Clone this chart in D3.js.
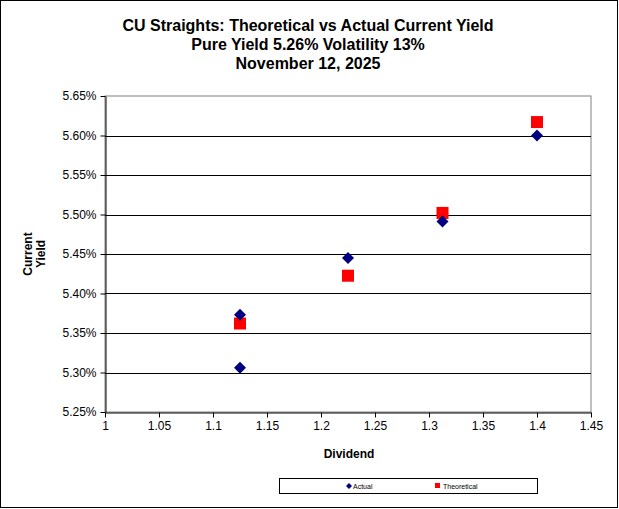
<!DOCTYPE html>
<html><head><meta charset="utf-8">
<script src="https://cdn.jsdelivr.net/npm/d3@7"></script>
<style>body{margin:0;background:#fff}svg{display:block;font-family:"Liberation Sans",Arial,sans-serif}</style>
</head><body><svg id="c" width="619" height="509"></svg>
<script>
const titleLines = ["CU Straights: Theoretical vs Actual Current Yield","Pure Yield 5.26% Volatility 13%","November 12, 2025"];
const actualX = [1.125, 1.125, 1.225, 1.3125, 1.4];
const actualY = [5.306, 5.373, 5.445, 5.491, 5.600];
const theoX = [1.125, 1.225, 1.3125, 1.4];
const theoY = [5.362, 5.4225, 5.502, 5.617];
const xTicks = [1,1.05,1.1,1.15,1.2,1.25,1.3,1.35,1.4,1.45];
const yTicks = [5.25,5.30,5.35,5.40,5.45,5.50,5.55,5.60,5.65];
const seriesNames = ["Actual","Theoretical"];

const svg = d3.select("#c");
const W=619,H=509;
svg.append("rect").attr("x",0.5).attr("y",0.5).attr("width",W-2).attr("height",H-2).attr("fill","#fff").attr("stroke","#000");
const L=105,R=591,T=96,B=412;
const x=d3.scaleLinear().domain([1,1.45]).range([L,R]);
const y=d3.scaleLinear().domain([5.25,5.65]).range([B,T]);

// title
svg.append("g").selectAll("text").data(titleLines).join("text")
 .attr("x",308).attr("y",(d,i)=>31+i*19).attr("text-anchor","middle")
 .attr("font-size",16).attr("font-weight","bold").text(d=>d);

// plot border
svg.append("rect").attr("x",L).attr("y",T).attr("width",R-L).attr("height",B-T).attr("fill","none").attr("stroke","#808080");
// gridlines
svg.append("g").selectAll("line").data(yTicks.filter(v=>v>5.25&&v<5.65)).join("line")
 .attr("x1",L).attr("x2",R).attr("y1",d=>Math.round(y(d))+0.5).attr("y2",d=>Math.round(y(d))+0.5).attr("stroke","#000");

const yAxis=svg.append("g").attr("transform",`translate(${L+0.5},0)`)
 .call(d3.axisLeft(y).tickValues(yTicks).tickSize(5).tickSizeOuter(0).tickFormat(d=>d.toFixed(2)+"%"));
const xAxis=svg.append("g").attr("transform",`translate(0,${B+0.5})`)
 .call(d3.axisBottom(x).tickValues(xTicks).tickSize(5).tickSizeOuter(0).tickFormat(d=>String(d)));
[yAxis,xAxis].forEach(a=>{a.selectAll("path,line").attr("stroke","#000");a.selectAll("text").attr("font-size",12).attr("fill","#000").attr("font-family","'Liberation Sans',Arial,sans-serif");});
yAxis.selectAll("text").attr("x",-9);
xAxis.selectAll("text").attr("y",9);

// axis titles
svg.append("text").attr("x",349).attr("y",458).attr("text-anchor","middle").attr("font-size",12).attr("font-weight","bold").text("Dividend");
const yl=svg.append("text").attr("transform","translate(34,254) rotate(-90)").attr("text-anchor","middle").attr("font-size",12).attr("font-weight","bold");
yl.append("tspan").attr("x",0).attr("dy",-2).text("Current");
yl.append("tspan").attr("x",0).attr("dy",13).text("Yield");

// points
const diamond=(s)=>`M0,${-s}L${s},0L0,${s}L${-s},0Z`;
svg.append("g").selectAll("rect").data(theoX.map((v,i)=>[v,theoY[i]])).join("rect")
 .attr("x",d=>x(d[0])-6).attr("y",d=>y(d[1])-6).attr("width",12).attr("height",12).attr("fill","#ff0000");
svg.append("g").selectAll("path").data(actualX.map((v,i)=>[v,actualY[i]])).join("path")
 .attr("transform",d=>`translate(${x(d[0])},${y(d[1])})`).attr("d",diamond(6)).attr("fill","#000080");

// legend
const lg=svg.append("g");
lg.append("rect").attr("x",279.5).attr("y",478.5).attr("width",258).attr("height",15).attr("fill","#fff").attr("stroke","#000");
lg.append("path").attr("transform","translate(349,486)").attr("d",diamond(3)).attr("fill","#000080");
lg.append("text").attr("x",353).attr("y",489).attr("font-size",7).text(seriesNames[0]);
lg.append("rect").attr("x",435).attr("y",483).attr("width",5).attr("height",5).attr("fill","#ff0000");
lg.append("text").attr("x",443).attr("y",489).attr("font-size",7).text(seriesNames[1]);
</script></body></html>
